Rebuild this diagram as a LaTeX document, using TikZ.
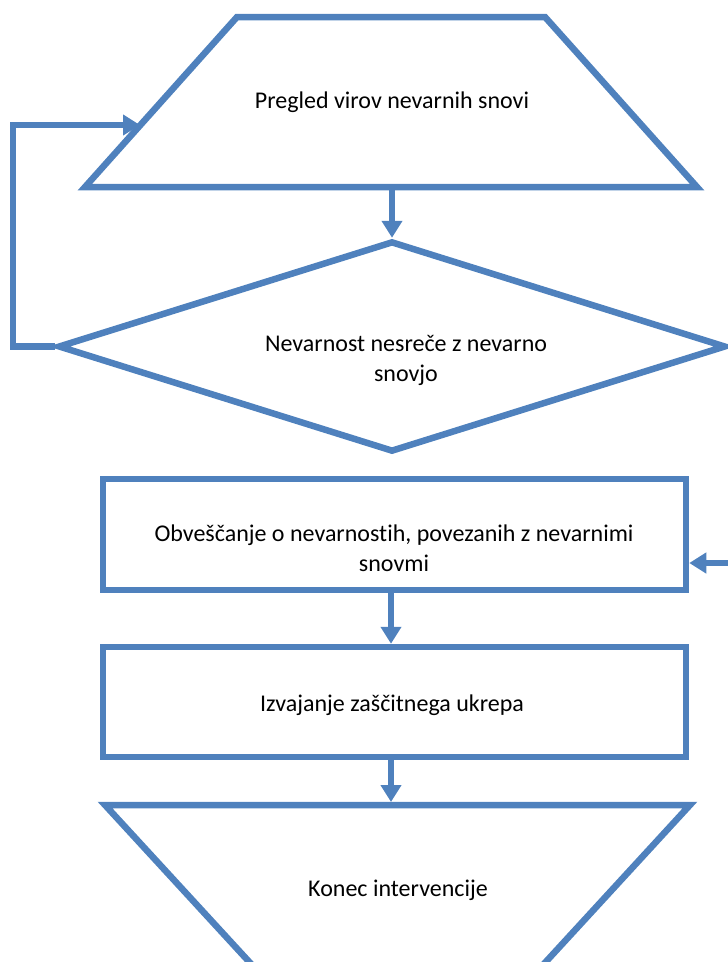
\documentclass[tikz,border=0pt]{standalone}
\usepackage{fontspec}
\setmainfont{Carlito}[Ligatures=NoCommon]
\usetikzlibrary{arrows.meta,shapes.geometric}
\definecolor{flowblue}{RGB}{79,129,189}

\begin{document}
\begin{tikzpicture}[x=1pt,y=-1pt,
    outline/.style={draw=flowblue,line width=6.5pt},
    flow/.style={draw=flowblue,line width=6.5pt,-{Triangle[width=20pt,length=17pt]}},
    label/.style={font=\fontsize{24}{30}\selectfont,align=center,text=black}]
    \useasboundingbox (0,0) rectangle (728,962);
    \clip (0,0) rectangle (728,962);

    \draw[outline] (237,17) -- (545,17) -- (697,187) -- (85,187) -- cycle;
    \node[label] (review) at (392,102) {Pregled virov nevarnih snovi};
    \coordinate (review-s) at (392,190);
    \coordinate (review-w) at (140,125);
    \coordinate (spine) at (391,0);

    \node[outline,diamond,minimum width=668pt,minimum height=211pt,inner sep=0pt] (hazard) at (392,346.5) {};
    \node[label] (hazard-text) at (406,360) {Nevarnost nesreče z nevarno\\snovjo};

    \node[outline,rectangle,minimum width=583pt,minimum height=111pt] (notify) at (394.5,534.5) {};
    \node[label] (notify-text) at (394,548) {Obveščanje o nevarnostih, povezanih z nevarnimi\\snovmi};

    \node[outline,rectangle,minimum width=583pt,minimum height=110pt] (act) at (394.5,702) {};
    \node[label] (act-text) at (392,705) {Izvajanje zaščitnega ukrepa};

    \draw[outline] (105,805) -- (690,805) -- (542,966) -- (253,966) -- cycle;
    \node[label] (end) at (398,890) {Konec intervencije};
    \coordinate (end-n) at (391,802);
    \coordinate (feedback) at (731,563);

    \draw[flow] (review-s) -- (hazard.north);
    \draw[flow] (hazard.west) -- ++(-42,0) |- (review-w);
    \draw[flow] (feedback) -- (notify.east |- feedback);
    \draw[flow] (notify.south -| spine) -- (act.north -| spine);
    \draw[flow] (act.south -| spine) -- (end-n);
  \end{tikzpicture}
\end{document}
